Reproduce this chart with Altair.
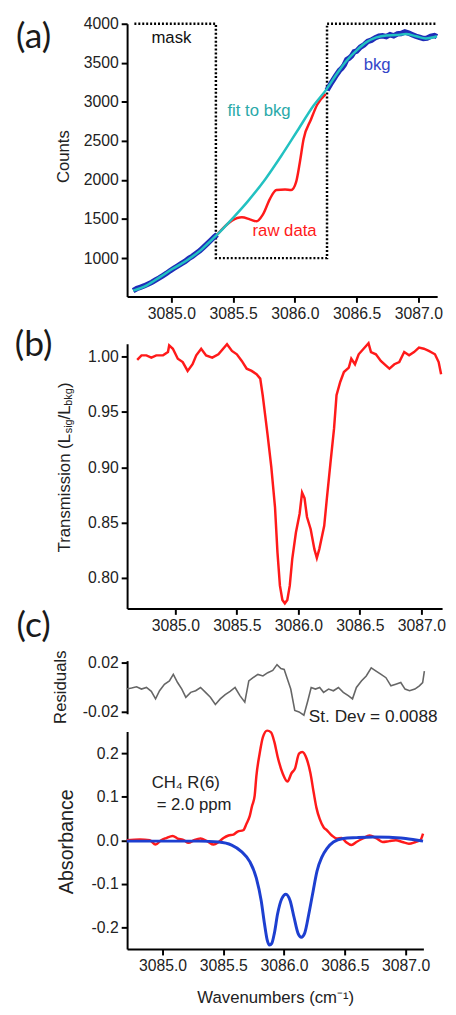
import altair as alt
import pandas as pd

# ---------------- Panel (a): raw counts ----------------
bkg_left_x = [3084.69, 3084.72, 3084.75, 3084.78, 3084.81, 3084.84, 3084.87, 3084.90, 3084.93, 3084.96,
              3084.99, 3085.02, 3085.05, 3085.08, 3085.11, 3085.14, 3085.17, 3085.20, 3085.23, 3085.26,
              3085.29, 3085.32, 3085.35, 3085.37]
bkg_left_y = [585, 610, 628, 645, 668, 690, 718, 745, 775, 805,
              840, 870, 900, 930, 958, 995, 1025, 1060, 1095, 1140,
              1185, 1230, 1275, 1300]
bkg_right_x = [3086.26, 3086.29, 3086.31, 3086.33, 3086.36, 3086.38, 3086.40, 3086.42, 3086.44, 3086.46,
               3086.48, 3086.50, 3086.53, 3086.56, 3086.59, 3086.62, 3086.65, 3086.68, 3086.71, 3086.74,
               3086.77, 3086.80, 3086.83, 3086.86, 3086.89, 3086.92, 3086.95, 3086.98, 3087.01, 3087.04,
               3087.07, 3087.10, 3087.13, 3087.15]
bkg_right_y = [3150, 3230, 3280, 3330, 3400, 3430, 3475, 3540, 3560, 3590,
               3640, 3650, 3700, 3730, 3775, 3790, 3820, 3840, 3845, 3835,
               3860, 3845, 3870, 3875, 3895, 3880, 3860, 3840, 3825, 3810,
               3815, 3840, 3850, 3835]
fit_x = [3084.69, 3084.80, 3084.91, 3085.01, 3085.12, 3085.23, 3085.33, 3085.37, 3085.49, 3085.62,
         3085.76, 3085.89, 3086.02, 3086.15, 3086.26, 3086.34, 3086.42, 3086.50, 3086.58, 3086.66,
         3086.74, 3086.82, 3086.90, 3086.98, 3087.06, 3087.15]
fit_y = [583, 652, 760, 863, 967, 1093, 1241, 1300, 1500, 1730,
         2010, 2310, 2630, 2950, 3170, 3360, 3530, 3660, 3765, 3825,
         3850, 3855, 3868, 3840, 3812, 3840]
raw_x = [3085.37, 3085.49, 3085.57, 3085.64, 3085.69, 3085.74, 3085.80, 3085.85, 3085.92, 3085.97,
         3086.01, 3086.04, 3086.07, 3086.13, 3086.18, 3086.25]
raw_y = [1300, 1480, 1522, 1493, 1471, 1556, 1766, 1871, 1879, 1871,
         1976, 2228, 2522, 2774, 2963, 3101]
mask_x = [3084.70, 3085.36, 3085.36, 3086.26, 3086.26, 3087.15]
mask_y = [4000, 4000, 1000, 1000, 4000, 4000]

# ---------------- Panel (b): transmission ----------------
trans_x = [3084.69, 3084.725, 3084.765, 3084.805, 3084.845, 3084.90, 3084.94, 3084.95, 3084.98, 3085.02,
           3085.06, 3085.10, 3085.14, 3085.17, 3085.21, 3085.25, 3085.30, 3085.35, 3085.42, 3085.46,
           3085.50, 3085.54, 3085.58, 3085.62, 3085.66, 3085.69, 3085.71, 3085.73, 3085.75, 3085.78,
           3085.81, 3085.83, 3085.85, 3085.87, 3085.89, 3085.91, 3085.93, 3085.95, 3085.98, 3086.01,
           3086.03, 3086.05, 3086.07, 3086.10, 3086.13, 3086.15, 3086.17, 3086.21, 3086.23, 3086.26,
           3086.29, 3086.31, 3086.34, 3086.37, 3086.41, 3086.43, 3086.46, 3086.49, 3086.53, 3086.57,
           3086.59, 3086.63, 3086.67, 3086.71, 3086.74, 3086.78, 3086.82, 3086.86, 3086.90, 3086.94,
           3086.98, 3087.02, 3087.06, 3087.11, 3087.14, 3087.16]
trans_y = [0.997, 1.001, 1.001, 0.999, 1.001, 1.001, 1.004, 1.010, 1.007, 0.998,
           0.995, 0.987, 0.993, 1.001, 1.007, 1.001, 0.999, 1.002, 1.011, 1.005,
           1.002, 0.996, 0.989, 0.987, 0.984, 0.980, 0.965, 0.947, 0.929, 0.900,
           0.864, 0.823, 0.793, 0.780, 0.777, 0.780, 0.793, 0.817, 0.841, 0.858,
           0.877, 0.872, 0.855, 0.844, 0.826, 0.818, 0.826, 0.847, 0.870, 0.903,
           0.935, 0.965, 0.977, 0.986, 0.990, 0.998, 0.993, 1.002, 1.007, 1.012,
           1.004, 1.002, 0.996, 0.992, 0.989, 0.993, 0.995, 1.004, 1.001, 1.004,
           1.008, 1.007, 1.005, 1.002, 0.995, 0.984]

# ---------------- Panel (c): residuals ----------------
res_x = [3084.706, 3084.746, 3084.787, 3084.827, 3084.868, 3084.908, 3084.943, 3084.976, 3085.016, 3085.057,
         3085.089, 3085.124, 3085.159, 3085.192, 3085.232, 3085.273, 3085.313, 3085.354, 3085.394, 3085.435,
         3085.475, 3085.516, 3085.556, 3085.597, 3085.637, 3085.677, 3085.710, 3085.745, 3085.785, 3085.826,
         3085.866, 3085.907, 3085.942, 3085.974, 3086.001, 3086.028, 3086.055, 3086.088, 3086.123, 3086.163,
         3086.196, 3086.223, 3086.258, 3086.293, 3086.325, 3086.366, 3086.406, 3086.447, 3086.487, 3086.528,
         3086.563, 3086.595, 3086.636, 3086.676, 3086.717, 3086.757, 3086.798, 3086.838, 3086.879, 3086.919,
         3086.960, 3086.995, 3087.032, 3087.076, 3087.113, 3087.140, 3087.154]
res_y = [-0.0016, -0.0008, 0.0003, -0.0016, -0.0003, -0.0035, -0.0097, -0.0030, 0.0024, 0.0051,
         0.0105, 0.0038, -0.0016, -0.0084, -0.0043, -0.0030, -0.0003, -0.0043, -0.0084, -0.0143,
         -0.0097, -0.0062, -0.0035, -0.0003, -0.0070, -0.0124, 0.0051, 0.0078, 0.0105, 0.0092,
         0.0119, 0.0138, 0.0186, 0.0154, 0.0146, 0.0065, -0.0016, -0.0192, -0.0205, -0.0232,
         -0.0111, -0.0003, -0.0016, -0.0003, -0.0043, -0.0016, -0.0030, -0.0003, -0.0043, -0.0070,
         -0.0097, -0.0003, 0.0051, 0.0092, 0.0159, 0.0132, 0.0105, 0.0078, 0.0011, 0.0024,
         0.0038, -0.0016, -0.0030, -0.0016, 0.0011, 0.0038, 0.0132]

# ---------------- Panel (c): absorbance ----------------
abs_x = [3084.706, 3084.814, 3084.895, 3084.943, 3084.989, 3085.030, 3085.084, 3085.124, 3085.178, 3085.213,
         3085.259, 3085.313, 3085.367, 3085.421, 3085.462, 3085.502, 3085.543, 3085.583, 3085.618, 3085.664,
         3085.691, 3085.718, 3085.737, 3085.745, 3085.758, 3085.772, 3085.799, 3085.826, 3085.861, 3085.893,
         3085.920, 3085.947, 3085.988, 3086.028, 3086.061, 3086.090, 3086.123, 3086.150, 3086.185, 3086.217,
         3086.244, 3086.266, 3086.293, 3086.325, 3086.352, 3086.393, 3086.433, 3086.474, 3086.509, 3086.555,
         3086.595, 3086.649, 3086.703, 3086.757, 3086.811, 3086.865, 3086.919, 3086.973, 3087.027, 3087.081,
         3087.121, 3087.143]
abs_y = [0.000, 0.002, 0.000, -0.010, 0.000, 0.005, 0.010, 0.004, 0.000, -0.006,
         0.000, 0.004, -0.002, -0.010, -0.004, 0.005, 0.011, 0.013, 0.020, 0.023,
         0.038, 0.056, 0.079, 0.086, 0.102, 0.147, 0.199, 0.237, 0.252, 0.248,
         0.226, 0.192, 0.154, 0.135, 0.154, 0.165, 0.199, 0.203, 0.188, 0.154,
         0.109, 0.075, 0.049, 0.030, 0.023, 0.011, 0.004, 0.005, -0.004, -0.011,
         -0.004, 0.004, 0.011, 0.005, -0.004, -0.002, 0.000, -0.004, -0.008, -0.004,
         0.000, 0.015]
absfit_x = [3084.706, 3085.030, 3085.300, 3085.462, 3085.569, 3085.650, 3085.718, 3085.772, 3085.812, 3085.839,
            3085.861, 3085.880, 3085.899, 3085.920, 3085.947, 3085.980, 3086.015, 3086.050, 3086.082, 3086.115,
            3086.142, 3086.169, 3086.204, 3086.239, 3086.271, 3086.312, 3086.352, 3086.406, 3086.487, 3086.595,
            3086.730, 3086.865, 3087.000, 3087.143]
absfit_y = [-0.002, -0.002, -0.002, -0.004, -0.011, -0.026, -0.049, -0.087, -0.139, -0.192,
            -0.229, -0.241, -0.237, -0.214, -0.169, -0.135, -0.124, -0.139, -0.177, -0.214,
            -0.223, -0.214, -0.169, -0.117, -0.071, -0.038, -0.019, -0.004, 0.004, 0.006,
            0.0075, 0.007, 0.004, -0.002]

x_ticks = [3085.0, 3085.5, 3086.0, 3086.5, 3087.0]

FONT = "Liberation Sans"
LBL = "#222222"
RED = "#ff1a1a"
DBLUE = "#1f2db8"
CYAN = "#22c1c1"
FITBLUE = "#1d3fd0"


def df(xs, ys):
    return pd.DataFrame({"x": xs, "y": ys, "i": list(range(len(xs)))})


def xaxis(show=True, title=None):
    kw = dict(values=x_ticks, format=".1f", grid=False, domainColor="black", domainWidth=2,
              tickColor="black", tickWidth=2, tickSize=6, labelFont=FONT, labelFontSize=16,
              labelColor=LBL, labelPadding=3, labelFlush=False)
    if title:
        kw.update(title=title, titleFont=FONT, titleFontSize=17, titleColor=LBL,
                  titleFontWeight="normal", titlePadding=16)
    if not show:
        return alt.Axis(domain=False, ticks=False, labels=False, grid=False)
    return alt.Axis(**kw)


def yaxis(values, fmt):
    return alt.Axis(values=values, grid=False, domainColor="black", domainWidth=2,
                    tickColor="black", tickWidth=2, tickSize=6, labelFont=FONT, labelFontSize=16,
                    labelColor=LBL, labelPadding=3, labelFlush=False,
                    labelExpr=f"datum.value < 0 ? '-' + format(-datum.value, '{fmt}') : format(datum.value, '{fmt}')")


def line(data, xsc, ysc, xax, yax, **mk):
    return alt.Chart(data).mark_line(clip=False, **mk).encode(
        x=alt.X("x:Q", scale=xsc, axis=xax, title=None),
        y=alt.Y("y:Q", scale=ysc, axis=yax, title=None),
        order=alt.Order("i:Q"),
    )


def label(text, x, y, size=17, color=LBL, font=FONT, angle=0, align="center", baseline="middle"):
    kw = dict(text=text, font=font, fontSize=size, color=color, align=align, baseline=baseline)
    if angle:
        kw["angle"] = angle
    return alt.Chart(pd.DataFrame({"a": [0]})).mark_text(**kw).encode(
        x=alt.value(x), y=alt.value(y))


# ---- panel (a)
xa = alt.Scale(domain=[3084.641, 3087.152], nice=False, zero=False)
ya = alt.Scale(domain=[510, 4000], nice=False, zero=False)
ax_a = xaxis()
ay_a = yaxis([1000, 1500, 2000, 2500, 3000, 3500, 4000], "d")
panel_a = alt.layer(
    line(df(mask_x, mask_y), xa, ya, ax_a, ay_a, color="black", strokeWidth=2.5, strokeDash=[2, 2]),
    line(df(bkg_left_x, bkg_left_y), xa, ya, ax_a, ay_a, color=DBLUE, strokeWidth=5.5),
    line(df(bkg_right_x, bkg_right_y), xa, ya, ax_a, ay_a, color=DBLUE, strokeWidth=5.5),
    line(df(raw_x, raw_y), xa, ya, ax_a, ay_a, color=RED, strokeWidth=2.5, interpolate="monotone"),
    line(df(fit_x, fit_y), xa, ya, ax_a, ay_a, color=CYAN, strokeWidth=2.5, interpolate="monotone"),
    label("mask", 45, 15, color="#111111"),
    label("fit to bkg", 134, 89, color="#2aa9a9"),
    label("bkg", 254, 42, color="#3446c8"),
    label("raw data", 160, 211, color=RED),
    label("Counts", -64, 135, angle=270),
    label("(a)", -95, 14, size=36, font="Lato", color="#1a1a1a"),
).properties(width=315, height=277)

# ---- panel (b)
xb = alt.Scale(domain=[3084.608, 3087.168], nice=False, zero=False)
yb = alt.Scale(domain=[0.7724, 1.0116], nice=False, zero=False)
panel_b = alt.layer(
    line(df(trans_x, trans_y), xb, yb, xaxis(), yaxis([0.80, 0.85, 0.90, 0.95, 1.00], ".2f"),
         color=RED, strokeWidth=2.5),
    label("Transmission (L", -63, 212, angle=270, align="left"),
    label("sig", -59, 91, size=11, angle=270, align="left"),
    label("/L", -63, 77, angle=270, align="left"),
    label("bkg", -59, 63, size=11, angle=270, align="left"),
    label(")", -63, 45, angle=270, align="left"),
    label("(b)", -95, 2, size=36, font="Lato", color="#1a1a1a"),
).properties(width=320, height=269)

# ---- panel (c) residuals
xc = alt.Scale(domain=[3084.709, 3087.146], nice=False, zero=False)
yr = alt.Scale(domain=[-0.022, 0.0219], nice=False, zero=False)
panel_r = alt.layer(
    line(df(res_x, res_y), xc, yr, xaxis(show=False), yaxis([-0.02, 0.02], ".2f"),
         color="#666666", strokeWidth=1.6),
    label("Residuals", -67, 27, angle=270),
    label("St. Dev = 0.0088", 250, 57, size=17.5),
    label("(c)", -95, -35, size=36, font="Lato", color="#1a1a1a"),
).properties(width=301, height=54)

# ---- panel (c) absorbance
yab = alt.Scale(domain=[-0.25, 0.25], nice=False, zero=False)
ax_c = xaxis(title="Wavenumbers (cm\u207b\u00b9)")
ay_c = yaxis([-0.2, -0.1, 0.0, 0.1, 0.2], ".1f")
panel_abs = alt.layer(
    line(df(abs_x, abs_y), xc, yab, ax_c, ay_c, color=RED, strokeWidth=2.5, interpolate="monotone"),
    line(df(absfit_x, absfit_y), xc, yab, ax_c, ay_c, color=FITBLUE, strokeWidth=3, interpolate="monotone"),
    label("Absorbance", -61, 112, size=20, angle=270),
    label("CH\u2084 R(6)", 25, 52, align="left"),
    label("= 2.0 ppm", 30, 75, align="left"),
).properties(width=301, height=221)

inner = alt.vconcat(panel_r, panel_abs, spacing=18, bounds="flush")
mid = alt.vconcat(panel_b, inner, spacing=53, bounds="flush")
chart = alt.vconcat(panel_a, mid, spacing=48, bounds="flush").properties(
    padding={"left": 6, "top": 0, "right": 0, "bottom": 0}
).configure_view(strokeWidth=0)

chart.save("out.html", embed_options={"renderer": "svg", "actions": False})
